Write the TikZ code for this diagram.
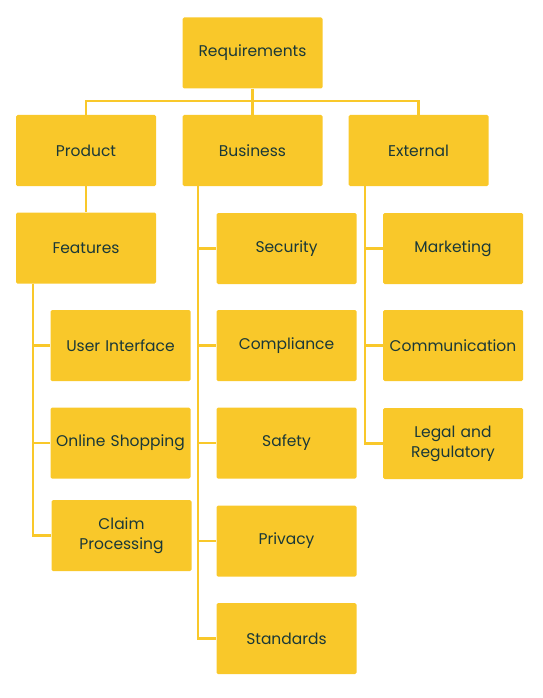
\documentclass[tikz,border=0pt]{standalone}
\usepackage{fontspec}
\setmainfont{Poppins}
\definecolor{boxy}{HTML}{F9C82A}
\definecolor{txt}{HTML}{1A3838}
\begin{document}
\begin{tikzpicture}[x=1pt,y=-1pt,
  box/.style={fill=boxy,draw=none,rounded corners=1.5pt,minimum width=140pt,minimum height=71pt,
    inner sep=0pt,text=txt,font=\fontsize{15.5}{20}\selectfont,align=center,text width=140pt},
  link/.style={draw=boxy,line width=2.6pt}]
\useasboundingbox (0,0) rectangle (542,698);
\node[box] (req) at (252.5,53) {Requirements};
\node[box] (prod) at (86,150.5) {Product};
\node[box] (bus) at (252.5,150.5) {Business};
\node[box] (ext) at (418.5,150.5) {External};
\node[box] (feat) at (86,248) {Features};
\node[box] (ui) at (120.5,345.5) {User Interface};
\node[box] (shop) at (120.5,443) {Online Shopping};
\node[box] (claim) at (121.5,535.5) {Claim\\Processing};
\node[box] (sec) at (286.5,248.5) {Security};
\node[box] (comp) at (286.5,345.5) {Compliance};
\node[box] (safe) at (286.5,443) {Safety};
\node[box] (priv) at (286.5,541) {Privacy};
\node[box] (std) at (286.5,638.5) {Standards};
\node[box] (mkt) at (453,248.5) {Marketing};
\node[box] (comm) at (453,345.5) {Communication};
\node[box] (legal) at (453,443.5) {Legal and\\Regulatory};
\coordinate (bar) at (252.5,101);
\begin{scope}[on background layer/.try]
\draw[link] (req.south) -- (bar);
\draw[link] (prod.north) |- (bar) -| (ext.north);
\draw[link] (bar) -- (bus.north);
\draw[link] (prod.south) -- (feat.north);
\draw[link] (feat.south -| 33,0) |- (ui.west);
\draw[link] (feat.south -| 33,0) |- (shop.west);
\draw[link] (feat.south -| 33,0) |- (claim.west);
\draw[link] (bus.south -| 198,0) |- (sec.west);
\draw[link] (bus.south -| 198,0) |- (comp.west);
\draw[link] (bus.south -| 198,0) |- (safe.west);
\draw[link] (bus.south -| 198,0) |- (priv.west);
\draw[link] (bus.south -| 198,0) |- (std.west);
\draw[link] (ext.south -| 365,0) |- (mkt.west);
\draw[link] (ext.south -| 365,0) |- (comm.west);
\draw[link] (ext.south -| 365,0) |- (legal.west);
\end{scope}
\end{tikzpicture}
\end{document}
